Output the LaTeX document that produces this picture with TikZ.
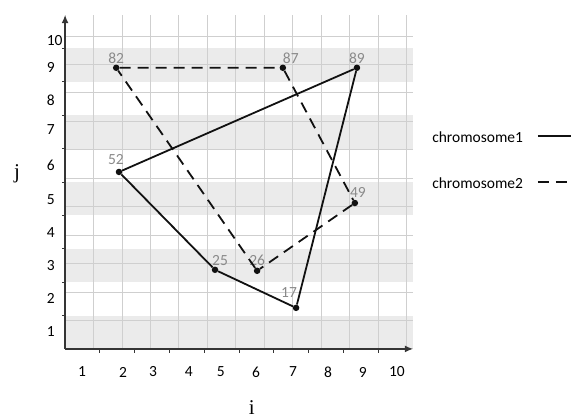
\documentclass[tikz,border=0pt]{standalone}
\usepackage{fontspec}
\setmainfont{Carlito}
\newfontfamily\axisfont{Liberation Serif}
\usetikzlibrary{arrows.meta}
\definecolor{gridline}{HTML}{CFCFCF}
\definecolor{band}{HTML}{EBEBEB}
\definecolor{labelgrey}{HTML}{8A8A8A}
\definecolor{ink}{HTML}{111111}

\begin{document}
\begin{tikzpicture}[x=34.8pt, y=33.4pt, every node/.style={font=\fontsize{15.5}{18}\selectfont},
    dot/.style={circle, fill=ink, inner sep=0pt, minimum size=6.5pt},
    ptlabel/.style={text=labelgrey, inner sep=0.5pt},
    chromA/.style={line width=1.8pt, ink},
    chromB/.style={chromA, dash pattern=on 11pt off 7pt}]
    \useasboundingbox (-1.87,-2.07) rectangle (14.6,10.45);

    % grid with shaded bands
    \foreach \r in {0,2,4,6,8}
      \fill[band] (0,\r) rectangle (10,\r+1);
    \draw[gridline, line width=0.9pt] (0,0) grid (10,10);

    % axes
    \draw[-{Latex[length=8pt, width=7pt]}, line width=1.5pt, ink!85] (0,0) -- (0,10);
    \draw[-{Latex[length=8pt, width=7pt]}, line width=1.5pt, ink!85] (0,0) -- (10,0);
    \foreach \n in {1,...,9} {
      \draw[line width=0.9pt, ink!85] (0,\n) -- ++(-3pt,0);
      \draw[line width=0.9pt, ink!85] (\n,0) -- ++(0,-4pt);
    }
    \foreach \n/\y in {1/0.51, 2/1.5, 3/2.51, 4/3.5, 5/4.46, 6/5.51, 7/6.56, 8/7.46, 9/8.44, 10/9.25}
      \node[anchor=west, inner sep=0pt] (ylab\n) at (-0.53,\y) {\n};
    \foreach \n/\x in {1/0.49, 2/1.67, 3/2.53, 4/3.56, 5/4.48, 6/5.49, 7/6.55, 8/7.56, 9/8.56, 10/9.54}
      \node[inner sep=0pt] (xlab\n) at (\x,-0.69) {\n};
    \node[font=\axisfont\fontsize{21}{24}\selectfont] (iaxis) at (5.37,-1.77) {i};
    \node[font=\axisfont\fontsize{21}{24}\selectfont] (jaxis) at (-1.38,5.24) {j};

    % genes
    \node[dot, label={[ptlabel]above:82}] (p82) at (1.47,8.42) {};
    \node[dot, label={[ptlabel, xshift=8pt, label distance=0pt]above:87}] (p87) at (6.26,8.42) {};
    \node[dot, label={[ptlabel, label distance=0pt]above:89}] (p89) at (8.39,8.42) {};
    \node[dot, label={[ptlabel, xshift=-3pt, label distance=3pt]above:52}] (p52) at (1.55,5.30) {};
    \node[dot, label={[ptlabel, xshift=3pt, label distance=1pt]above:49}] (p49) at (8.33,4.37) {};
    \node[dot, label={[ptlabel, xshift=5pt, label distance=0pt]above:25}] (p25) at (4.31,2.37) {};
    \node[dot, label={[ptlabel, label distance=1pt]above:26}] (p26) at (5.52,2.34) {};
    \node[dot, label={[ptlabel, xshift=-7pt, label distance=6pt]above:17}] (p17) at (6.64,1.23) {};

    % tours
    \draw[chromA] (p52) -- (p89) -- (p17) -- (p25) -- (p52);
    \draw[chromB] (p82) -- (p87) -- (p49) -- (p26) -- (p82);

    % legend
    \node[anchor=west, inner sep=0pt] (leg1) at (10.55,6.35) {chromosome1};
    \node[anchor=west, inner sep=0pt] (leg2) at (10.55,4.97) {chromosome2};
    \coordinate (leg1a) at (13.59,6.38);
    \coordinate (leg1b) at (14.55,6.38);
    \coordinate (leg2a) at (13.59,5.0);
    \coordinate (leg2b) at (14.6,5.0);
    \draw[chromA] (leg1a) -- (leg1b);
    \draw[chromB] (leg2a) -- (leg2b);
\end{tikzpicture}
\end{document}
